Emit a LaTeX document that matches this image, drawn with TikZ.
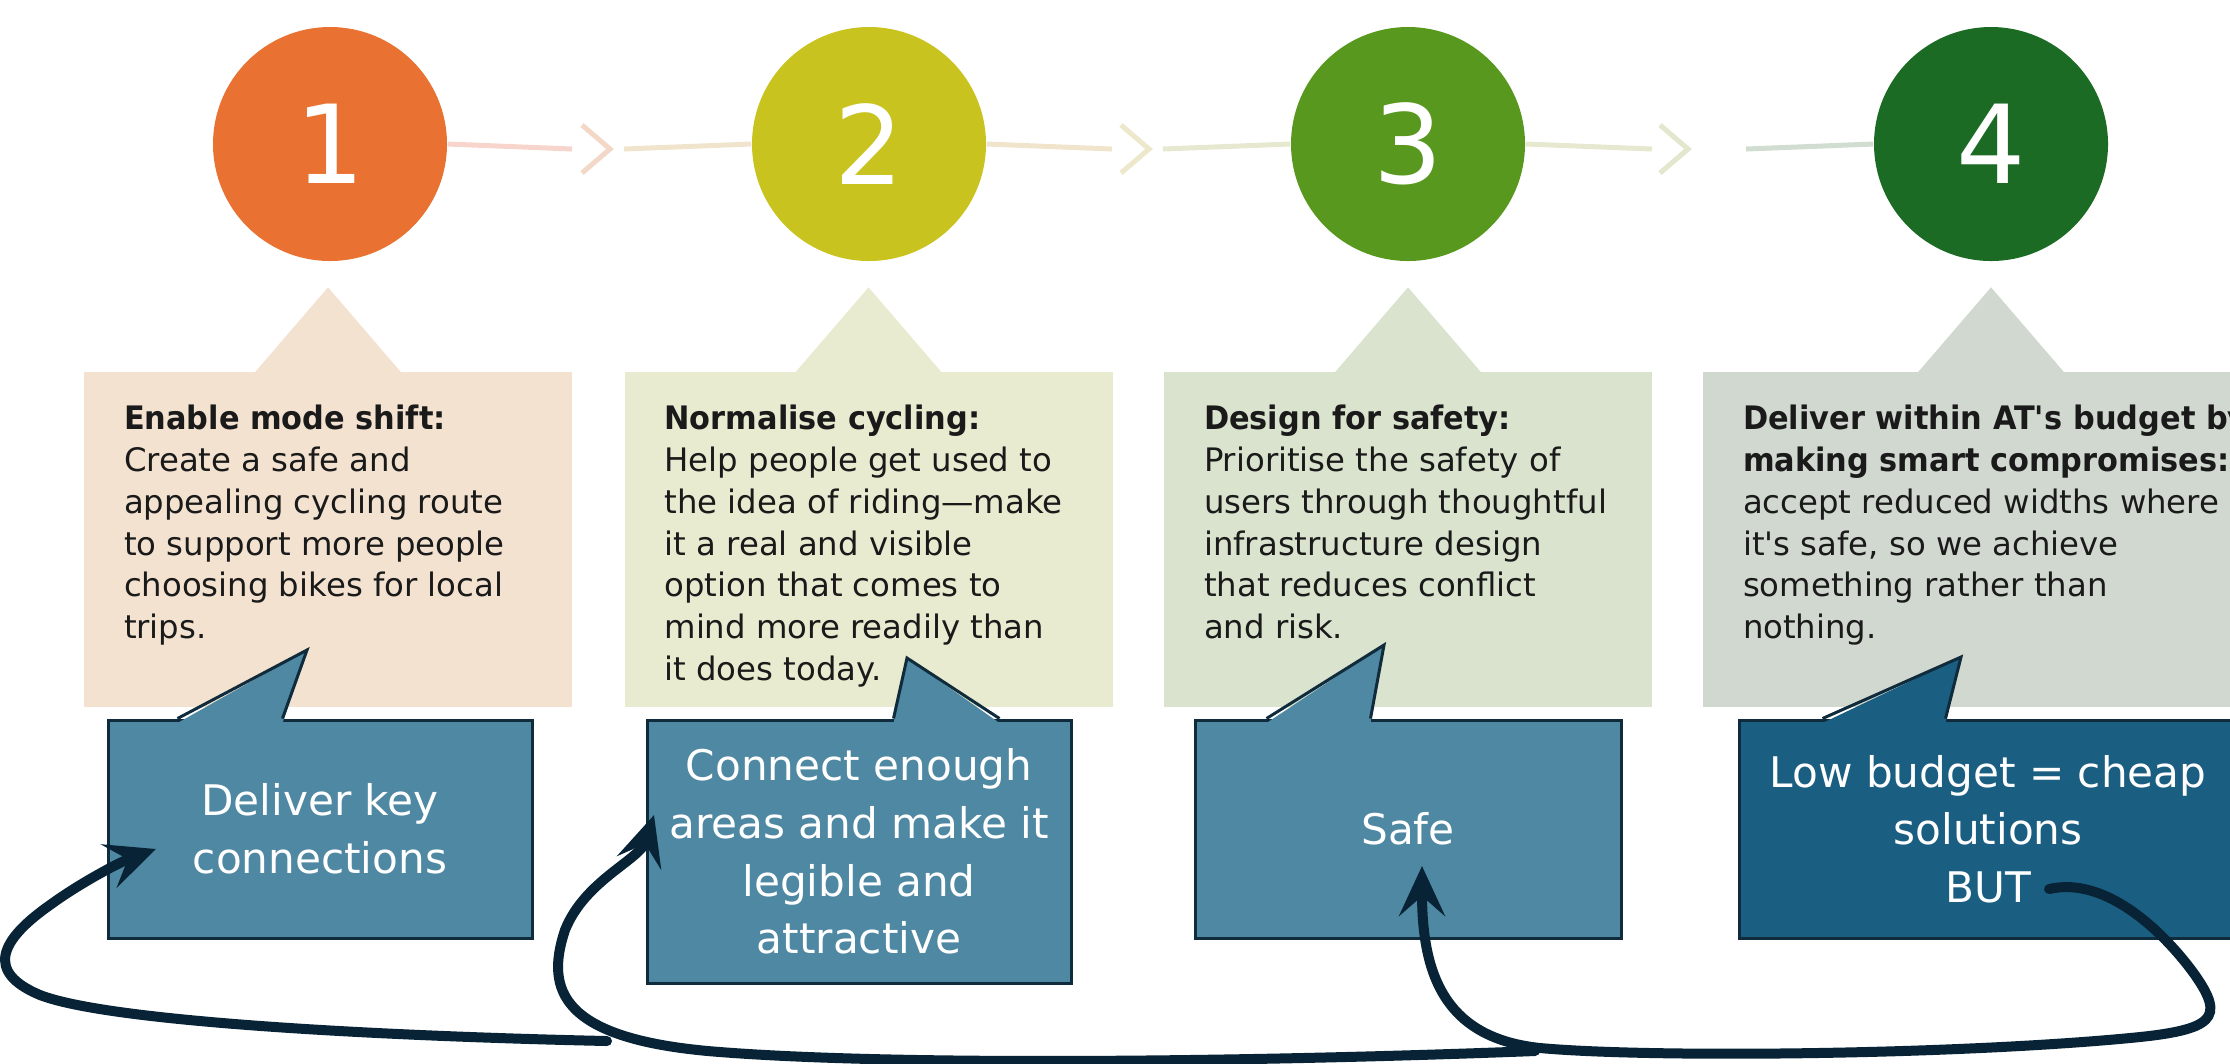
\documentclass[tikz,border=0pt]{standalone}
\usepackage{fontspec}
\setmainfont[BoldFeatures={FakeStretch=0.94}]{DejaVu Sans}
\usetikzlibrary{arrows.meta,positioning}
\definecolor{stepone}{HTML}{E97132}
\definecolor{steptwo}{HTML}{C9C31F}
\definecolor{stepthree}{HTML}{59981F}
\definecolor{stepfour}{HTML}{1B6B24}
\definecolor{boxone}{HTML}{F3E2D0}
\definecolor{boxtwo}{HTML}{E8EBCF}
\definecolor{boxthree}{HTML}{D9E3CD}
\definecolor{boxfour}{HTML}{D1D8D0}
\definecolor{segone}{HTML}{F8D5CC}
\definecolor{chevone}{HTML}{F3D8C8}
\definecolor{segtwo}{HTML}{F0E4CC}
\definecolor{chevtwo}{HTML}{EDE8CC}
\definecolor{segthree}{HTML}{E6E8D0}
\definecolor{chevthree}{HTML}{E2E7CD}
\definecolor{segfour}{HTML}{D0DDD0}
\definecolor{callfill}{HTML}{4F88A2}
\definecolor{calldark}{HTML}{1A5E81}
\definecolor{calledge}{HTML}{0F2B3C}
\definecolor{arrowink}{HTML}{072335}
\definecolor{inkblack}{HTML}{1A1A1A}

\begin{document}
\begin{tikzpicture}[%
    x=0.1mm, y=-0.1mm,          % one unit = one pixel of the sketch
    >={Stealth[length=5mm,width=4.6mm,inset=2mm]},
    ]

\tikzset{
  numdot/.style={circle, minimum size=23.4mm, inner sep=0pt, text=white, font={\fontsize{31}{31}\selectfont}},
  infobox/.style={rectangle, minimum width=48.8mm, minimum height=33.5mm, inner sep=0pt},
  infotext/.style={anchor=north west, align=left, inner sep=0pt, text=inkblack, font={\fontsize{9.2}{11.9}\selectfont}},
  callbox/.style={rectangle, draw=calledge, line width=0.3mm, fill=callfill, minimum width=42.4mm, minimum height=21.8mm,
    align=center, inner sep=0pt, text=white, font={\fontsize{12}{16.4}\selectfont}},
  tail/.style={draw=calledge, line width=0.3mm, line join=miter},
  seg/.style={line width=0.5mm},
  chev/.style={line width=0.5mm},
  % thick hand drawn return arrows
  loopback/.style={->, draw=arrowink, line width=1mm, line cap=round},
}

  \useasboundingbox (0,0) rectangle (2230,1063);
  \clip (0,0) rectangle (2230,1063);

  % -------------------------------------------------
  % numbered steps and the line joining them
  \node[numdot, fill=stepone]   (c1) at (330,144)  {1};
  \node[numdot, fill=steptwo]   (c2) at (869,144)  {2};
  \node[numdot, fill=stepthree] (c3) at (1408,144) {3};
  \node[numdot, fill=stepfour]  (c4) at (1991,144) {4};

  \coordinate (chev1) at (610,149);
  \coordinate (chev2) at (1149,149);
  \coordinate (chev3) at (1688,149);

  \draw[seg, draw=segone] (c1.east) -- (chev1 -| 572,0);
  \draw[chev, draw=chevone] (chev1) ++(-28,-24) -- (chev1) -- ++(-28,24);
  \draw[seg, draw=segtwo] (chev1 -| 624,0) -- (c2.west);
  \draw[seg, draw=segtwo] (c2.east) -- (chev2 -| 1112,0);
  \draw[chev, draw=chevtwo] (chev2) ++(-28,-24) -- (chev2) -- ++(-28,24);
  \draw[seg, draw=segthree] (chev2 -| 1163,0) -- (c3.west);
  \draw[seg, draw=segthree] (c3.east) -- (chev3 -| 1652,0);
  \draw[chev, draw=chevthree] (chev3) ++(-28,-24) -- (chev3) -- ++(-28,24);
  \draw[seg, draw=segfour] (chev3 -| 1746,0) -- (c4.west);

  % -------------------------------------------------
  % text boxes with a pointer up to the step
  \node[infobox, fill=boxone]   (box1) at (328,539.5)  {};
  \node[infobox, fill=boxtwo]   (box2) at (868.5,539.5) {};
  \node[infobox, fill=boxthree] (box3) at (1408,539.5) {};
  \node[infobox, fill=boxfour, minimum width=57.6mm] (box4) at (1991,539.5) {};

  \foreach \b/\col in {box1/boxone, box2/boxtwo, box3/boxthree, box4/boxfour}
    \fill[\col] ([xshift=-7.4mm,yshift=-0.2mm]\b.north) -- ([yshift=8.4mm]\b.north) -- ([xshift=7.4mm,yshift=-0.2mm]\b.north) -- cycle;

  \node[infotext] (t1) at ([shift={(40,33)}]box1.north west)
    {\textbf{Enable mode shift:}\\Create a safe and\\appealing cycling route\\to support more people\\choosing bikes for local\\trips.};
  \node[infotext] (t2) at ([shift={(40,33)}]box2.north west)
    {\textbf{Normalise cycling:}\\Help people get used to\\the idea of riding—make\\it a real and visible\\option that comes to\\mind more readily than\\it does today.};
  \node[infotext] (t3) at ([shift={(40,33)}]box3.north west)
    {\textbf{Design for safety:}\\Prioritise the safety of\\users through thoughtful\\infrastructure design\\that reduces conflict\\and risk.};
  \node[infotext] (t4) at ([shift={(40,33)}]box4.north west)
    {\textbf{Deliver within AT\textquotesingle s budget by}\\\textbf{making smart compromises:}\\accept reduced widths where\\it\textquotesingle s safe, so we achieve\\something rather than\\nothing.};

  % -------------------------------------------------
  % blue speech bubbles
  \node[callbox] (call1) at (320,829) {Deliver key\\connections};
  \node[callbox, minimum height=26.3mm] (call2) at (859,851.5) {Connect enough\\areas and make it\\legible and\\attractive};
  \node[callbox, minimum width=42.6mm] (call3) at (1408,829) {Safe};
  \node[callbox, fill=calldark, minimum width=49.8mm] (call4) at (1988,829) {Low budget = cheap\\solutions\\BUT};

  \coordinate (tip1) at (307,650);
  \coordinate (tip2) at (907,658);
  \coordinate (tip3) at (1384,645);
  \coordinate (tip4) at (1961,657);

  \fill[callfill] ([xshift=7.1mm,yshift=-0.45mm]call1.north west) -- (tip1) -- ([xshift=17.6mm,yshift=-0.45mm]call1.north west) -- cycle;
    \draw[tail] ([xshift=7.1mm]call1.north west) -- (tip1) -- ([xshift=17.6mm]call1.north west);
  \fill[callfill] ([xshift=24.8mm,yshift=-0.45mm]call2.north west) -- (tip2) -- ([xshift=35.4mm,yshift=-0.45mm]call2.north west) -- cycle;
    \draw[tail] ([xshift=24.8mm]call2.north west) -- (tip2) -- ([xshift=35.4mm]call2.north west);
  \fill[callfill] ([xshift=7.3mm,yshift=-0.45mm]call3.north west) -- (tip3) -- ([xshift=17.7mm,yshift=-0.45mm]call3.north west) -- cycle;
    \draw[tail] ([xshift=7.3mm]call3.north west) -- (tip3) -- ([xshift=17.7mm]call3.north west);
  \fill[calldark] ([xshift=8.5mm,yshift=-0.45mm]call4.north west) -- (tip4) -- ([xshift=20.8mm,yshift=-0.45mm]call4.north west) -- cycle;
    \draw[tail] ([xshift=8.5mm]call4.north west) -- (tip4) -- ([xshift=20.8mm]call4.north west);

  % -------------------------------------------------
  % return arrows
  \coordinate (a1s) at (607,1041);
  \coordinate (a1e) at (156,849);
  \coordinate (a2s) at (1535,1051);
  \coordinate (a2e) at (654,815);
  \coordinate (a3s) at (2049,889);
  \coordinate (a3e) at (1422,866);

  \draw[loopback] (a1s) .. controls (380,1036) and (110,1022) .. (40,995)
    .. controls (-15,972) and (0,940) .. (50,905)
    .. controls (80,883) and (120,862) .. (a1e);
  \draw[loopback] (a2s) .. controls (1250,1062) and (900,1066) .. (720,1052)
    .. controls (560,1040) and (545,990) .. (565,930)
    .. controls (585,880) and (640,860) .. (a2e);
  \draw[loopback] (a3s) .. controls (2110,875) and (2170,940) .. (2195,975)
    .. controls (2225,1018) and (2215,1030) .. (2130,1038)
    .. controls (1950,1055) and (1650,1058) .. (1540,1048)
    .. controls (1445,1038) and (1422,975) .. (a3e);
\end{tikzpicture}
\end{document}
